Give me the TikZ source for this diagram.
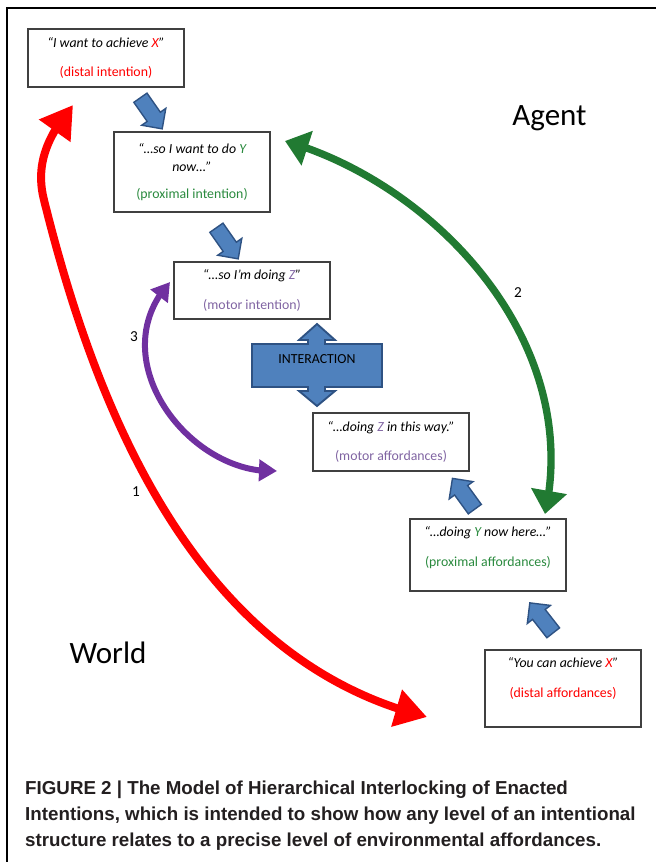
\documentclass[tikz,border=0pt]{standalone}
\usepackage{fontspec}
\setmainfont{Carlito}
\newfontfamily\capfont{Liberation Sans}
\usetikzlibrary{arrows.meta,bending,shapes.arrows}
\definecolor{DistRed}{HTML}{FF0000}
\definecolor{ProxGreen}{HTML}{2A8A3E}
\definecolor{MotPurple}{HTML}{8064A2}
\definecolor{ArrGreen}{HTML}{217A32}
\definecolor{ArrPurple}{HTML}{7030A0}
\definecolor{BoxLine}{HTML}{404040}
\definecolor{Block}{HTML}{4F81BD}
\definecolor{BlockLine}{HTML}{2E5283}
\definecolor{CapText}{HTML}{231F20}

\begin{document}
\begin{tikzpicture}[x=0.03cm,y=-0.03cm,
        box/.style={draw=BoxLine,line width=.9pt,minimum width=4.68cm,align=center,
                    font=\fontsize{11.8}{15}\selectfont},
        blockarr/.style={single arrow,draw=BlockLine,fill=Block,line width=1.2pt,
                    minimum height=11.4mm,inner sep=2.2mm,single arrow head extend=2mm},
        redarr/.style={DistRed,line width=2.4mm,
                    {Triangle[length=9.5mm,width=11mm]}-{Triangle[length=9.5mm,width=11mm]}},
        greenarr/.style={ArrGreen,line width=2.2mm,
                    {Triangle[length=7mm,width=10.5mm]}-{Triangle[length=7mm,width=10.5mm]}},
        purplearr/.style={ArrPurple,line width=1.8mm,
                    {Triangle[length=5.4mm,width=6.3mm]}-{Triangle[length=5.4mm,width=6.3mm]}},
        numlabel/.style={font=\fontsize{13}{15}\selectfont},
        bigword/.style={font=\fontsize{26.5}{30}\selectfont,anchor=base}
      ]
  \useasboundingbox (0,0) rectangle (657,862);
  \draw[line width=2pt] (7,862) -- (7,8) -- (656,8);

  % intentions (agent side)
  \node[box,minimum height=1.74cm] (distint) at (106,58)
    {\textit{“I want to achieve \textcolor{DistRed}{X}”}\\[10.5pt]\textcolor{DistRed}{(distal intention)}};
  \node[box,minimum height=2.4cm] (proxint) at (192,172)
    {\textit{“…so I want to do \textcolor{ProxGreen}{Y}}\\\textit{now…”}\\[8pt]\textcolor{ProxGreen}{(proximal intention)}};
  \node[box,minimum height=1.71cm] (motint) at (252,290.5)
    {\textit{“…so I’m doing \textcolor{MotPurple}{Z}”}\\[10.5pt]\textcolor{MotPurple}{(motor intention)}};

  % affordances (world side)
  \node[box,minimum height=1.74cm] (motaff) at (391,442)
    {\textit{“…doing \textcolor{MotPurple}{Z} in this way.”}\\[10.5pt]\textcolor{MotPurple}{(motor affordances)}};
  \node[box,minimum height=2.16cm] (proxaff) at (488,555)
    {\textit{“…doing \textcolor{ProxGreen}{Y} now here…”}\\[10.5pt]\textcolor{ProxGreen}{(proximal affordances)}\\\mbox{}};
  \node[box,minimum height=2.31cm] (distaff) at (563,688.5)
    {\textit{“You can achieve \textcolor{DistRed}{X}”}\\[10.5pt]\textcolor{DistRed}{(distal affordances)}\\[4pt]\mbox{}};

  % block arrows between levels
  \node[blockarr,rotate=-55] (down1) at (149,110) {};
  \node[blockarr,rotate=-55] (down2) at (225,240) {};
  \node[blockarr,rotate=126] (up1) at (466,497) {};
  \node[blockarr,rotate=128] (up2) at (544,621) {};

  % interaction callout
  \draw[draw=BlockLine,fill=Block,line width=1.6pt,line join=miter]
    (252,344) -- (308,344) -- (308,340) -- (299,340) -- (317,324) -- (335,340) -- (325,340)
    -- (325,344) -- (382,344) -- (382,387) -- (325,387) -- (325,391) -- (335,391) -- (317,406)
    -- (299,391) -- (308,391) -- (308,387) -- (252,387) -- cycle;
  \node[font=\fontsize{11.8}{14}\selectfont] (interaction) at (317,359) {INTERACTION};

  % loops
  \coordinate (redtop) at (73,105);
  \coordinate (redbot) at (427,717);
  \coordinate (greentop) at (285,141);
  \coordinate (greenbot) at (545,514);
  \coordinate (purpletop) at (170,282);
  \coordinate (purplebot) at (277,471);
  \draw[redarr] (redtop) .. controls (51,132) and (34,161) .. (44,200)
    .. controls (95,406) and (193,659) .. (redbot);
  \draw[greenarr] (greentop) .. controls (435,184) and (583,341) .. (greenbot);
  \draw[purplearr] (purpletop) .. controls (100,359) and (190,476) .. (purplebot);
  \node[numlabel] (one) at (136,492) {1};
  \node[numlabel] (two) at (518,293) {2};
  \node[numlabel] (three) at (134,337) {3};

  \node[bigword] (agent) at (549.5,125) {Agent};
  \node[bigword] (world) at (108,663) {World};

  \node[anchor=north west,align=left,inner sep=0,text=CapText,
        font=\capfont\bfseries\fontsize{16}{22}\selectfont] (caption) at (25,781)
    {FIGURE 2 | The Model of Hierarchical Interlocking of Enacted\\
     Intentions, which is intended to show how any level of an intentional\\
     structure relates to a precise level of environmental affordances.};
\end{tikzpicture}
\end{document}
